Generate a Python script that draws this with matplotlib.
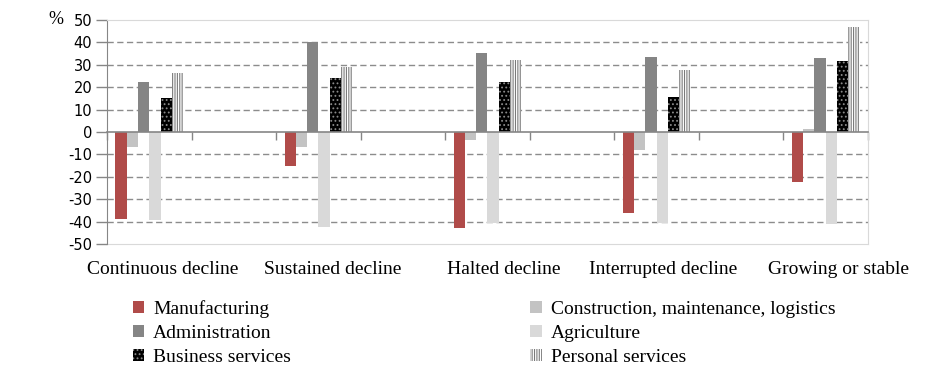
import matplotlib
matplotlib.use("Agg")
import matplotlib.pyplot as plt
import numpy as np

categories = ["Continuous decline", "Sustained decline", "Halted decline",
              "Interrupted decline", "Growing or stable"]
series_names = ["Manufacturing", "Construction, maintenance, logistics", "Administration",
                "Agriculture", "Business services", "Personal services"]
manufacturing = [-39, -15, -43, -36, -22.5]
construction = [-6.5, -6.5, -3.7, -8, 1.5]
administration = [22.5, 40.2, 35.4, 33.6, 33.2]
agriculture = [-39.5, -42.3, -40.8, -40.8, -41.2]
business = [15, 24.2, 22.5, 15.8, 31.8]
personal = [26.5, 29.1, 32.3, 27.8, 47]
yticks = [-50, -40, -30, -20, -10, 0, 10, 20, 30, 40, 50]

plt.rcParams['axes.unicode_minus'] = False
plt.rcParams['hatch.linewidth'] = 0.8

W, H = 929, 369
fig = plt.figure(figsize=(W / 100, H / 100), dpi=100)
ax = fig.add_axes([107 / W, 1 - 244 / H, (868 - 107) / W, (244 - 20) / H])

values = [manufacturing, construction, administration, agriculture, business, personal]
styles = [
    dict(color="#B04B49"),
    dict(color="#C3C3C3"),
    dict(color="#858585"),
    dict(color="#D9D9D9"),
    dict(facecolor="black", edgecolor="#8a8a8a", hatch="....", linewidth=0),
    dict(facecolor="white", edgecolor="#7a7a7a", hatch="|||||||", linewidth=0),
]
n_slots = 2 * len(categories) - 1
pos = np.arange(len(categories)) * 2.0
bw = 0.8 / 6
handles = []
for j, (vals, st) in enumerate(zip(values, styles)):
    b = ax.bar(pos + (j - 2.5) * bw, vals, width=bw, label=series_names[j], zorder=3, **st)
    handles.append(b)

ax.set_xlim(-0.5, n_slots - 0.5)
ax.set_ylim(-50, 50)
ax.set_yticks(yticks)
ax.set_yticklabels([str(v) for v in yticks], fontname="DejaVu Sans", fontsize=10.5)
ax.tick_params(axis='y', direction='out', length=8, width=1, color="#868686", pad=2.5)

for v in yticks:
    if v not in (-50, 0, 50):
        ax.axhline(v, color="#8c8c8c", lw=1, ls=(0, (4.5, 2.5)), zorder=1)

# zero axis with category boundary ticks
ax.spines['bottom'].set_position(('data', 0))
ax.spines['bottom'].set_color("#868686")
ax.spines['bottom'].set_linewidth(1.2)
ax.spines['bottom'].set_zorder(4)
ax.set_xticks(np.arange(0, n_slots + 1) - 0.5)
ax.set_xticklabels([])
ax.tick_params(axis='x', direction='out', length=6, width=1, color="#868686")

ax.spines['left'].set_color("#868686")
ax.spines['top'].set_color("#D9D9D9")
ax.spines['right'].set_color("#D9D9D9")

sec = ax.secondary_xaxis('bottom')
sec.spines['bottom'].set_color("#D9D9D9")
label_pos = [0.16, 2.17, 4.19, 6.08, 8.15]
sec.set_xticks(label_pos)
sec.set_xticklabels(categories, fontname="Liberation Serif", fontsize=14)
sec.tick_params(axis='x', length=0, pad=12)

fig.text(56 / W, 1 - 19 / H, "%", fontname="Liberation Serif", fontsize=13,
         ha="center", va="center")

order = [0, 2, 4, 1, 3, 5]
leg = fig.legend([handles[i] for i in order], [series_names[i] for i in order],
                 ncol=2, loc="upper left", bbox_to_anchor=(123 / W, 1 - 290 / H),
                 frameon=False, prop=dict(family="Liberation Serif", size=14),
                 handlelength=0.6, handleheight=0.6, handletextpad=0.45,
                 labelspacing=0.36, columnspacing=12.3, borderpad=0)

fig.savefig("out.png", dpi=100)
